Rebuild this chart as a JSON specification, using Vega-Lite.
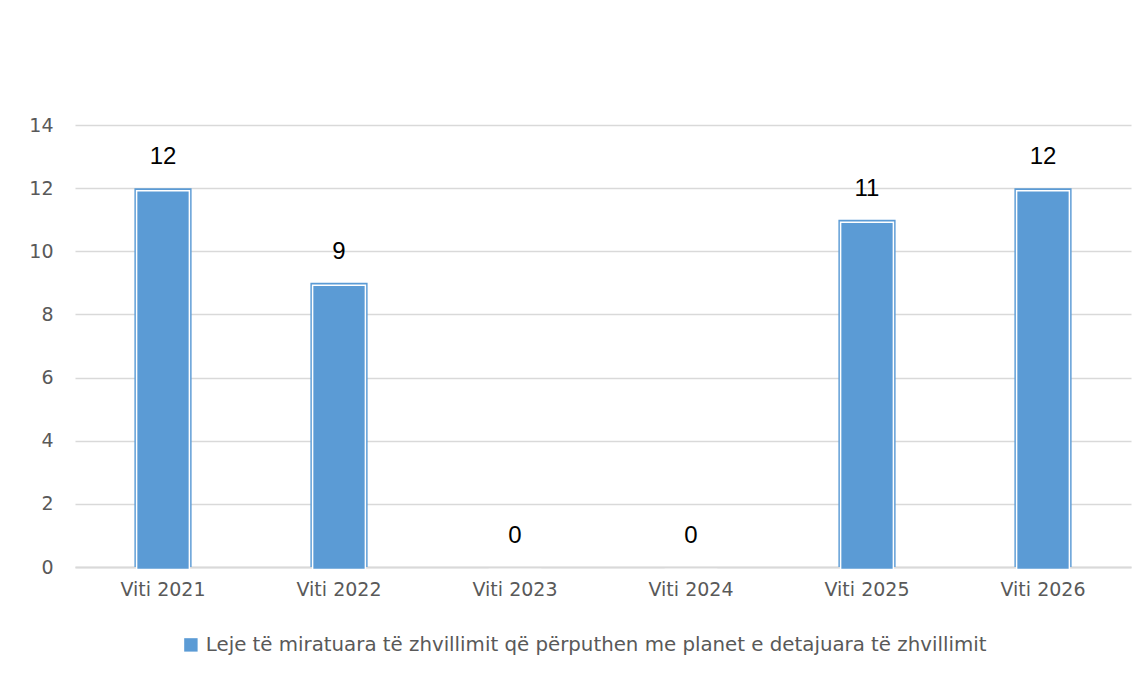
{
  "$schema": "https://vega.github.io/schema/vega-lite/v6.json",
  "autosize": "none",
  "width": 1056,
  "height": 442,
  "padding": {"left": 75, "top": 125, "right": 16, "bottom": 110},
  "background": "white",
  "config": {"view": {"stroke": null}},
  "data": {"values": [
    {"year": "Viti 2021", "value": 12, "series": "Leje të miratuara të zhvillimit që përputhen me planet e detajuara të zhvillimit"},
    {"year": "Viti 2022", "value": 9, "series": "Leje të miratuara të zhvillimit që përputhen me planet e detajuara të zhvillimit"},
    {"year": "Viti 2023", "value": 0, "series": "Leje të miratuara të zhvillimit që përputhen me planet e detajuara të zhvillimit"},
    {"year": "Viti 2024", "value": 0, "series": "Leje të miratuara të zhvillimit që përputhen me planet e detajuara të zhvillimit"},
    {"year": "Viti 2025", "value": 11, "series": "Leje të miratuara të zhvillimit që përputhen me planet e detajuara të zhvillimit"},
    {"year": "Viti 2026", "value": 12, "series": "Leje të miratuara të zhvillimit që përputhen me planet e detajuara të zhvillimit"}
  ]},
  "encoding": {
    "x": {"field": "year", "type": "nominal", "sort": null,
      "scale": {"paddingInner": 0, "paddingOuter": 0},
      "axis": {"title": null, "labelAngle": 0, "labelFont": "DejaVu Sans", "labelFontSize": 19, "labelColor": "#595959",
        "ticks": false, "domainColor": "#d9d9d9", "domainWidth": 2, "labelPadding": 13}},
    "y": {"field": "value", "type": "quantitative",
      "scale": {"domain": [0, 14]},
      "axis": {"title": null, "values": [0, 2, 4, 6, 8, 10, 12, 14], "labelFont": "DejaVu Sans", "labelFontSize": 19, "labelColor": "#595959",
        "ticks": false, "domain": false, "gridColor": "#d9d9d9", "gridWidth": 1.5, "labelPadding": 22}}
  },
  "layer": [
    {"mark": {"type": "bar", "width": {"band": 0.325}, "color": "#5B9BD5"},
      "encoding": {"color": {"field": "series", "type": "nominal", "scale": {"range": ["#5B9BD5"]},
        "legend": {"title": null, "orient": "none", "legendX": 106, "legendY": 510, "direction": "horizontal",
          "symbolType": "square", "symbolSize": 180, "symbolStrokeWidth": 0, "labelFont": "DejaVu Sans", "labelFontSize": 19.8, "labelColor": "#595959", "labelLimit": 1000, "labelOffset": 5}}}},
    {"mark": {"type": "bar", "width": {"band": 0.3}, "color": "#5B9BD5", "stroke": "white", "strokeWidth": 1.5, "yOffset": 2.5, "y2Offset": -1.5}},
    {"mark": {"type": "text", "baseline": "middle", "dy": -31, "font": "Liberation Sans", "fontSize": 24, "color": "black"},
      "encoding": {"text": {"field": "value", "type": "quantitative"}}}
  ]
}
